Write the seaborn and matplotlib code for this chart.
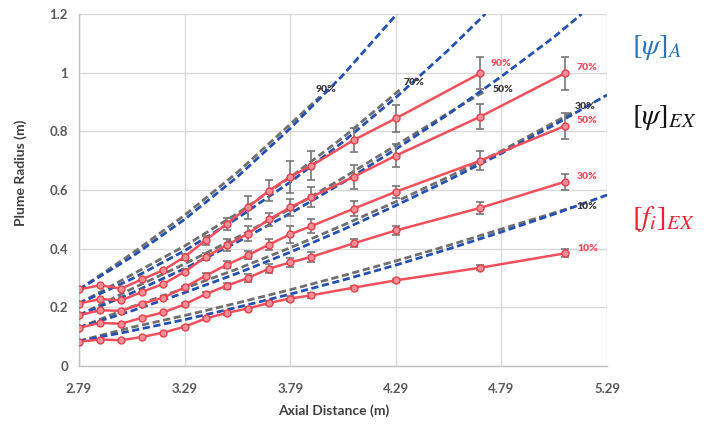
import numpy as np
import pandas as pd
import matplotlib
matplotlib.use("Agg")
import matplotlib.pyplot as plt
import seaborn as sns

# ---------------- data ----------------
x_meas = [2.79, 2.89, 2.99, 3.09, 3.19, 3.29, 3.39, 3.49, 3.59, 3.69, 3.79, 3.89, 4.09, 4.29, 4.69, 5.09]

r90 = [0.261, 0.275, 0.264, 0.296, 0.327, 0.372, 0.429, 0.485, 0.541, 0.598, 0.645, 0.683, 0.770, 0.844, 0.998]
r70 = [0.213, 0.228, 0.224, 0.253, 0.280, 0.321, 0.372, 0.412, 0.451, 0.500, 0.541, 0.576, 0.645, 0.717, 0.850, 0.998]
r50 = [0.173, 0.190, 0.188, 0.213, 0.233, 0.268, 0.308, 0.345, 0.378, 0.414, 0.449, 0.477, 0.536, 0.594, 0.700, 0.818]
r30 = [0.130, 0.147, 0.144, 0.165, 0.183, 0.210, 0.245, 0.274, 0.300, 0.332, 0.353, 0.372, 0.418, 0.462, 0.539, 0.628]
r10 = [0.083, 0.090, 0.088, 0.099, 0.114, 0.134, 0.162, 0.181, 0.196, 0.215, 0.230, 0.241, 0.267, 0.292, 0.335, 0.384]

e90 = [0, 0, 0, 0, 0, 0.010, 0.015, 0.020, 0.040, 0.035, 0.055, 0.050, 0.040, 0.045, 0.054]
e70 = [0, 0, 0, 0, 0, 0.008, 0.012, 0.020, 0.025, 0.022, 0.030, 0.034, 0.040, 0.040, 0.043, 0.057]
e50 = [0, 0, 0, 0, 0, 0.005, 0.008, 0.012, 0.014, 0.020, 0.028, 0.023, 0.025, 0.020, 0.032, 0.044]
e30 = [0, 0, 0, 0, 0, 0.005, 0.008, 0.010, 0.012, 0.015, 0.014, 0.016, 0.014, 0.014, 0.021, 0.028]
e10 = [0, 0, 0, 0, 0, 0.004, 0.005, 0.006, 0.006, 0.007, 0.008, 0.008, 0.006, 0.006, 0.008, 0.014]

levels = ["90%", "70%", "50%", "30%", "10%"]

# [psi]_A model curves (blue), read at regular axial stations
bx90 = [2.79, 3.04, 3.29, 3.54, 3.79, 4.04, 4.295]
by90 = [0.261, 0.372, 0.500, 0.645, 0.810, 0.992, 1.200]
bx70 = [2.79, 3.04, 3.29, 3.54, 3.79, 4.04, 4.29, 4.54, 4.714]
by70 = [0.213, 0.297, 0.393, 0.504, 0.627, 0.764, 0.915, 1.078, 1.200]
bx50 = [2.79, 3.04, 3.29, 3.54, 3.79, 4.04, 4.29, 4.54, 4.79, 5.04, 5.17]
by50 = [0.173, 0.249, 0.332, 0.423, 0.520, 0.626, 0.739, 0.859, 0.987, 1.122, 1.200]
bx30 = [2.79, 3.04, 3.29, 3.54, 3.79, 4.04, 4.29, 4.54, 4.79, 5.04, 5.29]
by30 = [0.131, 0.188, 0.250, 0.316, 0.388, 0.465, 0.547, 0.634, 0.725, 0.822, 0.924]
bx10 = [2.79, 3.04, 3.29, 3.54, 3.79, 4.04, 4.29, 4.54, 4.79, 5.04, 5.29]
by10 = [0.085, 0.120, 0.158, 0.200, 0.245, 0.293, 0.344, 0.399, 0.457, 0.518, 0.583]

# [psi]_EX model curves (gray)
gx90 = [2.79, 3.04, 3.29, 3.54, 3.79, 3.93]
gy90 = [0.261, 0.383, 0.514, 0.660, 0.824, 0.918]
gx70 = [2.79, 3.04, 3.29, 3.54, 3.79, 4.04, 4.31]
gy70 = [0.213, 0.311, 0.409, 0.520, 0.643, 0.779, 0.942]
gx50 = [2.79, 3.04, 3.29, 3.54, 3.79, 4.04, 4.29, 4.54, 4.72]
gy50 = [0.173, 0.263, 0.348, 0.439, 0.536, 0.641, 0.752, 0.863, 0.940]
gx30 = [2.79, 3.04, 3.29, 3.54, 3.79, 4.04, 4.29, 4.54, 4.79, 5.13]
gy30 = [0.131, 0.202, 0.265, 0.331, 0.403, 0.480, 0.560, 0.645, 0.733, 0.866]
gx10 = [2.79, 3.04, 3.29, 3.54, 3.79, 4.04, 4.29, 4.54, 4.79, 5.13]
gy10 = [0.085, 0.132, 0.172, 0.215, 0.260, 0.308, 0.358, 0.411, 0.467, 0.542]

x_ticks = [2.79, 3.29, 3.79, 4.29, 4.79, 5.29]
y_ticks = [0, 0.2, 0.4, 0.6, 0.8, 1.0, 1.2]
y_ticklabels = ["0", "0.2", "0.4", "0.6", "0.8", "1", "1.2"]

# ---------------- style ----------------
sns.set_theme(style="white")
plt.rcParams["font.family"] = ["Lato", "DejaVu Sans"]
plt.rcParams["mathtext.fontset"] = "stix"

RED = "#F0505C"
BLUE = "#2450B0"
GRAY = "#6F6F6F"

fig = plt.figure(figsize=(7.12, 4.26), dpi=100)
ax = fig.add_axes([79 / 712, 1 - 366 / 426, (607 - 79) / 712, (366 - 14) / 426])


def long(xs, ys, name):
    return pd.DataFrame({"x": xs, "y": ys, "series": name})


gray_df = pd.concat([long(gx90, gy90, "90%"), long(gx70, gy70, "70%"), long(gx50, gy50, "50%"),
                     long(gx30, gy30, "30%"), long(gx10, gy10, "10%")], ignore_index=True)
blue_df = pd.concat([long(bx90, by90, "90%"), long(bx70, by70, "70%"), long(bx50, by50, "50%"),
                     long(bx30, by30, "30%"), long(bx10, by10, "10%")], ignore_index=True)

reds = [r90, r70, r50, r30, r10]
errs = [e90, e70, e50, e30, e10]
red_df = pd.concat([long(x_meas[:len(r)], r, lv) for r, lv in zip(reds, levels)], ignore_index=True)

dash = (2.6, 1.3)
sns.lineplot(data=gray_df, x="x", y="y", units="series", estimator=None, sort=False,
             color=GRAY, lw=2.0, ax=ax, zorder=2, legend=False)
for ln in ax.lines:
    ln.set_dashes(dash)
n_gray = len(ax.lines)
sns.lineplot(data=blue_df, x="x", y="y", units="series", estimator=None, sort=False,
             color=BLUE, lw=2.0, ax=ax, zorder=3, legend=False)
for ln in ax.lines[n_gray:]:
    ln.set_dashes(dash)

# error bars (gray with caps)
for r, e in zip(reds, errs):
    xs = np.array(x_meas[:len(r)])
    ys = np.array(r)
    ee = np.array(e)
    m = ee > 0
    ax.errorbar(xs[m], ys[m], yerr=ee[m], fmt="none", ecolor="#777777", elinewidth=1.2,
                capsize=3, capthick=1.2, zorder=4)

sns.lineplot(data=red_df, x="x", y="y", units="series", estimator=None, sort=False,
             color=RED, lw=1.8, marker="o", markersize=5, markerfacecolor="#F58F97",
             markeredgecolor="#E8404C", markeredgewidth=1.0, ax=ax, zorder=5, legend=False)

# end labels
lab_kw = dict(fontsize=7.5, fontweight="heavy", va="center", ha="left", zorder=6)
ax.text(4.74, 1.032, "90%", color=RED, **lab_kw)
for lv, r in zip(levels[1:], reds[1:]):
    ax.text(5.148, r[-1] + 0.018, lv, color=RED, **lab_kw)
gray_lab = [(3.91, 0.941), (4.325, 0.965), (4.747, 0.943), (5.136, 0.886), (5.145, 0.543)]
for lv, (lx, ly) in zip(levels, gray_lab):
    ax.text(lx, ly, lv, color="#3A3A3A", **lab_kw)

# axes formatting
ax.set_xlim(2.79, 5.29)
ax.set_ylim(0, 1.2)
ax.set_xticks(x_ticks)
ax.set_xticklabels([f"{v:.2f}" for v in x_ticks])
ax.set_yticks(y_ticks)
ax.set_yticklabels(y_ticklabels)
ax.grid(True, color="#D9D9D9", lw=1.0)
ax.set_axisbelow(True)
for s in ["top", "right"]:
    ax.spines[s].set_visible(False)
for s in ["left", "bottom"]:
    ax.spines[s].set_color("#BFBFBF")
    ax.spines[s].set_linewidth(1.0)
ax.tick_params(axis="both", length=4, width=1, color="#BFBFBF", labelsize=9.5,
               labelcolor="#595959", pad=4)
for t in ax.get_xticklabels() + ax.get_yticklabels():
    t.set_fontweight("bold")
ax.tick_params(axis="x", pad=8)
ax.set_xlabel("Axial Distance (m)", fontsize=10, fontweight="bold", color="#404040")
ax.set_ylabel("Plume Radius (m)", fontsize=10, fontweight="bold", color="#404040")
ax.xaxis.set_label_coords(0.483, -0.11)
ax.yaxis.set_label_coords(-0.098, 0.55)

# right side annotations
fig.text(632 / 712, 1 - 47 / 426, r"$[\psi]_A$", color="#2E75B6", fontsize=21, va="center", ha="left")
fig.text(632 / 712, 1 - 117 / 426, r"$[\psi]_{EX}$", color="#111111", fontsize=21, va="center", ha="left")
fig.text(632 / 712, 1 - 219 / 426, r"$[f_i]_{EX}$", color="#E8242C", fontsize=21, va="center", ha="left")

fig.savefig("out.png", dpi=100)
